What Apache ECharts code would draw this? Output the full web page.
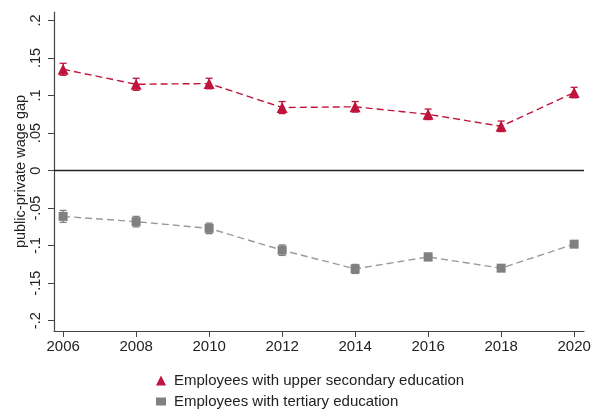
<!DOCTYPE html>
<html>
<head>
<meta charset="utf-8">
<script src="https://cdn.jsdelivr.net/npm/echarts@6/dist/echarts.min.js"></script>
<style>html,body{margin:0;padding:0;background:#fff}#c{width:591px;height:410px}</style>
</head>
<body>
<div id="c"></div>
<script>
const years = [2006, 2008, 2010, 2012, 2014, 2016, 2018, 2020];
const upperVals = [0.135, 0.115, 0.116, 0.084, 0.085, 0.075, 0.059, 0.104];
const upperErr  = [0.008, 0.008, 0.007, 0.008, 0.007, 0.007, 0.007, 0.007];
const tertVals  = [-0.061, -0.068, -0.077, -0.106, -0.131, -0.115, -0.130, -0.098];
const tertErr   = [0.008, 0.007, 0.007, 0.007, 0.006, 0.005, 0.004, 0.004];
const xTicks = [2006, 2008, 2010, 2012, 2014, 2016, 2018, 2020];
const yTicks = [-0.2, -0.15, -0.1, -0.05, 0, 0.05, 0.1, 0.15, 0.2];
const seriesNames = ['Employees with upper secondary education', 'Employees with tertiary education'];

const RED = '#c0143c', GRAY = '#808080';
const FONT = 'Liberation Sans, Arial, sans-serif';

function fmtY(v){
  let s = String(+(+v).toFixed(2));
  return s.replace(/^0\./, '.').replace(/^-0\./, '-.');
}
function pts(vals){ return years.map((y,i)=>[y, vals[i]]); }
function bars(vals, err){ return years.map((y,i)=>[y, vals[i]-err[i], vals[i]+err[i]]); }
function errRender(color){
  return function(params, api){
    const x = api.value(0);
    const lo = api.coord([x, api.value(1)]);
    const hi = api.coord([x, api.value(2)]);
    const w = 3.5;
    const st = {stroke: color, lineWidth: 1.3};
    return {type:'group', children:[
      {type:'line', shape:{x1:lo[0], y1:lo[1], x2:hi[0], y2:hi[1]}, style:st},
      {type:'line', shape:{x1:lo[0]-w, y1:lo[1], x2:lo[0]+w, y2:lo[1]}, style:st},
      {type:'line', shape:{x1:hi[0]-w, y1:hi[1], x2:hi[0]+w, y2:hi[1]}, style:st}
    ]};
  };
}
const legendText = {fontSize: 15, color: '#222', fontFamily: FONT, padding: [0, 0, 0, 3]};

const chart = echarts.init(document.getElementById('c'), null, {renderer:'canvas'});
chart.setOption({
  animation: false,
  textStyle: {fontFamily: FONT},
  grid: {left: 54, right: 7, top: 12, bottom: 79, containLabel: false, outerBoundsMode: 'none'},
  legend: [
    {left: 156, top: 373, itemWidth: 10, itemHeight: 10, itemGap: 0, padding: 0, textStyle: legendText,
     data: [{name: seriesNames[0], icon: 'triangle', itemStyle: {color: RED}}]},
    {left: 156, top: 394, itemWidth: 10, itemHeight: 8, itemGap: 0, padding: 0, textStyle: legendText,
     data: [{name: seriesNames[1], icon: 'rect', itemStyle: {color: GRAY}}]}
  ],
  xAxis: {
    type: 'value', min: 2005.75, max: 2020.27,
    axisLine: {show: true, onZero: false, lineStyle: {color: '#444', width: 1.2}},
    axisTick: {show: true, length: 6, customValues: xTicks, lineStyle: {color: '#444'}},
    axisLabel: {customValues: xTicks, fontSize: 15, color: '#222', margin: 8, formatter: v => String(v)},
    splitLine: {show: false}
  },
  yAxis: {
    type: 'value', min: -0.2137, max: 0.2113,
    name: 'public-private wage gap', nameLocation: 'middle', nameGap: 26, nameRotate: 90,
    nameMoveOverlap: false,
    nameTextStyle: {fontSize: 14.5, color: '#222'},
    axisLine: {show: true, onZero: false, lineStyle: {color: '#444', width: 1.2}},
    axisTick: {show: true, length: 6, customValues: yTicks, lineStyle: {color: '#444'}},
    axisLabel: {customValues: yTicks, rotate: 90, fontSize: 14.5, color: '#222', margin: 11, formatter: fmtY},
    splitLine: {show: false}
  },
  series: [
    {
      name: seriesNames[0], type: 'line', data: pts(upperVals), z: 5,
      symbol: 'triangle', symbolSize: 11, itemStyle: {color: RED},
      lineStyle: {color: RED, width: 1.4, type: [7, 4]},
      markLine: {silent: true, symbol: 'none', label: {show: false},
        lineStyle: {color: '#222', type: 'solid', width: 1.3},
        data: [{yAxis: 0}]}
    },
    {
      name: seriesNames[1], type: 'line', data: pts(tertVals), z: 5,
      symbol: 'rect', symbolSize: 9, itemStyle: {color: GRAY},
      lineStyle: {color: '#9a9a9a', width: 1.4, type: [7, 4]}
    },
    {type: 'custom', data: bars(upperVals, upperErr), renderItem: errRender(RED), z: 4, silent: true},
    {type: 'custom', data: bars(tertVals, tertErr), renderItem: errRender(GRAY), z: 4, silent: true}
  ]
});
</script>
</body>
</html>
